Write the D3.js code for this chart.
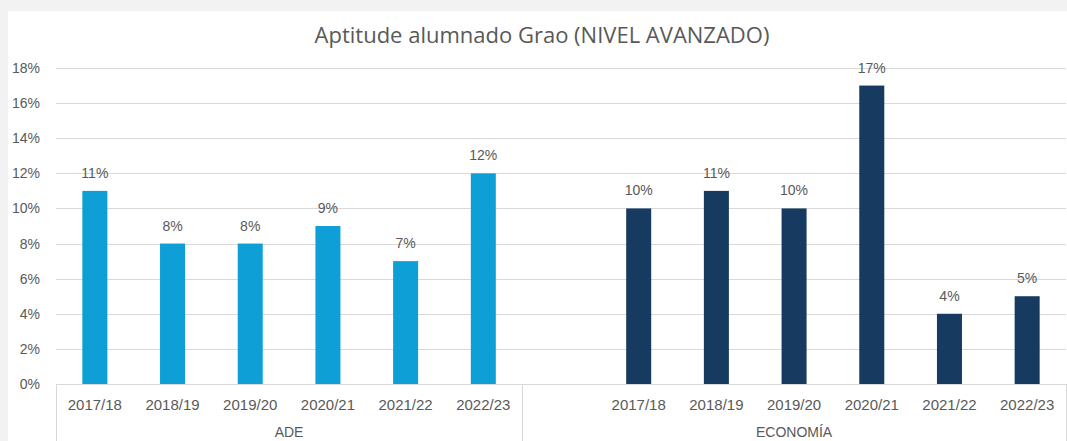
<!DOCTYPE html>
<html>
<head>
<meta charset="utf-8">
<script src="https://cdn.jsdelivr.net/npm/d3@7"></script>
<style>
	html, body { margin: 0; padding: 0; background: #f2f2f2; }
	svg { display: block; }
</style>
</head>
<body>
<div id="chart"></div>
<script>
var WIDTH = 1067;
var HEIGHT = 441;

var TITLE = "Aptitude alumnado Grao (NIVEL AVANZADO)";
var groups = ["ADE", "ECONOMÍA"];
var years = ["2017/18", "2018/19", "2019/20", "2020/21", "2021/22", "2022/23"];
var adeValues = [11, 8, 8, 9, 7, 12];
var economiaValues = [10, 11, 10, 17, 4, 5];
var yTicks = [0, 2, 4, 6, 8, 10, 12, 14, 16, 18];

var COLOURS = { "ADE": "#0f9fd7", "ECONOMÍA": "#173b60" };
var TEXT = "#595959";
var GRID = "#d9d9d9";

// ECONOMÍA starts with an empty slot, like the sheet it came from
var slots = [];
years.forEach(function(y, i) { slots.push({group: "ADE", year: y, value: adeValues[i]}); });
slots.push({group: "ECONOMÍA", year: "", value: null});
years.forEach(function(y, i) { slots.push({group: "ECONOMÍA", year: y, value: economiaValues[i]}); });
slots.forEach(function(d, i) { d.key = i; });

var margin = {left: 56, right: 1066, top: 68, bottom: 384};

var svg = d3.select('#chart').append('svg')
	.attr('width', WIDTH).attr('height', HEIGHT);

svg.append('rect').attr('x', 8).attr('y', 11)
	.attr('width', WIDTH - 8).attr('height', HEIGHT - 11)
	.attr('fill', '#ffffff');

var x = d3.scaleBand()
	.domain(slots.map(function(d) { return d.key; }))
	.range([margin.left, margin.right])
	.paddingInner(0.678).paddingOuter(0.339);
var step = x.step();

var y = d3.scaleLinear().domain([0, 18]).range([margin.bottom, margin.top]);

// title
svg.append('text')
	.attr('x', 542).attr('y', 43)
	.attr('text-anchor', 'middle')
	.attr('font-family', 'Open Sans, sans-serif')
	.attr('font-size', 22)
	.attr('fill', TEXT)
	.text(TITLE);

// grid lines + y labels
var yAxis = svg.append('g')
	.attr('transform', 'translate(' + margin.left + ',0)')
	.call(d3.axisLeft(y)
		.tickValues(yTicks)
		.tickSize(-(margin.right - margin.left))
		.tickPadding(16)
		.tickFormat(function(d) { return d + '%'; }));
yAxis.select('.domain').remove();
yAxis.selectAll('.tick line').attr('stroke', GRID).attr('stroke-width', 1)
	.attr('shape-rendering', 'crispEdges');
yAxis.selectAll('.tick text')
	.attr('fill', TEXT)
	.attr('font-family', 'Liberation Sans, Arial, sans-serif')
	.attr('font-size', 14);

// category axis: baseline and group separators
var axisG = svg.append('g');
axisG.append('line')
	.attr('x1', margin.left).attr('x2', margin.right)
	.attr('y1', y(0)).attr('y2', y(0))
	.attr('stroke', GRID).attr('shape-rendering', 'crispEdges');

var groupBounds = groups.map(function(g) {
	var idx = slots.filter(function(d) { return d.group == g; }).map(function(d) { return d.key; });
	return {
		name: g,
		x0: margin.left + step * d3.min(idx),
		x1: margin.left + step * (d3.max(idx) + 1)
	};
});
var sepXs = [groupBounds[0].x0].concat(groupBounds.map(function(b) { return b.x1; }));
axisG.selectAll('line.sep').data(sepXs).enter().append('line')
	.attr('class', 'sep')
	.attr('x1', function(d) { return Math.round(d) + 0.5; })
	.attr('x2', function(d) { return Math.round(d) + 0.5; })
	.attr('y1', y(0)).attr('y2', HEIGHT)
	.attr('stroke', GRID);

axisG.selectAll('text.year').data(slots.filter(function(d) { return d.year != ""; }))
	.enter().append('text')
	.attr('class', 'year')
	.attr('x', function(d) { return x(d.key) + x.bandwidth() / 2; })
	.attr('y', 410)
	.attr('text-anchor', 'middle')
	.attr('font-family', 'Liberation Sans, Arial, sans-serif')
	.attr('font-size', 15)
	.attr('fill', TEXT)
	.text(function(d) { return d.year; });

axisG.selectAll('text.group').data(groupBounds).enter().append('text')
	.attr('class', 'group')
	.attr('x', function(d) { return (d.x0 + d.x1) / 2; })
	.attr('y', 437)
	.attr('text-anchor', 'middle')
	.attr('font-family', 'Liberation Sans, Arial, sans-serif')
	.attr('font-size', 14)
	.attr('fill', TEXT)
	.text(function(d) { return d.name; });

// bars
var data = slots.filter(function(d) { return d.value != null; });
svg.append('g').selectAll('rect').data(data).enter().append('rect')
	.attr('x', function(d) { return x(d.key); })
	.attr('y', function(d) { return y(d.value); })
	.attr('width', x.bandwidth())
	.attr('height', function(d) { return y(0) - y(d.value); })
	.attr('fill', function(d) { return COLOURS[d.group]; });

// data labels
svg.append('g').selectAll('text').data(data).enter().append('text')
	.attr('x', function(d) { return x(d.key) + x.bandwidth() / 2; })
	.attr('y', function(d) { return y(d.value) - 13; })
	.attr('text-anchor', 'middle')
	.attr('font-family', 'Liberation Sans, Arial, sans-serif')
	.attr('font-size', 14)
	.attr('fill', TEXT)
	.text(function(d) { return d.value + '%'; });
</script>
</body>
</html>
